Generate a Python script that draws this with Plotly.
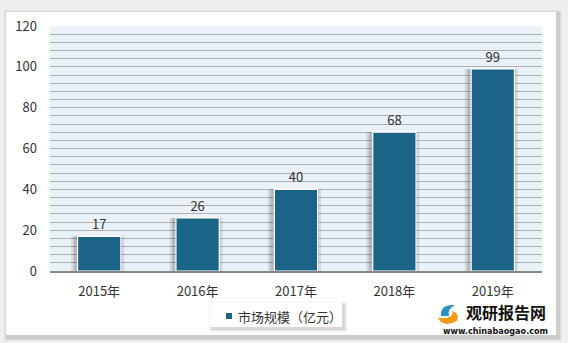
import plotly.graph_objects as go

categories = ["2015年", "2016年", "2017年", "2018年", "2019年"]
values = [17, 26, 40, 68, 99]
series_name = "市场规模（亿元）"
y_ticks = [0, 20, 40, 60, 80, 100, 120]

W, H = 568, 343
L, R, T, B = 50, 26, 26, 72
PW, PH = W - L - R, H - T - B

def px(x):
    return (x - L) / PW

def py(y):
    return (H - B - y) / PH

FONT = "Noto Sans CJK SC, Microsoft YaHei, sans-serif"
BAR = "#1b6487"

fig = go.Figure()

# shadow bars (same data), offset to the left
fig.add_trace(go.Bar(x=categories, y=values, width=0.54, marker=dict(color="rgba(0,0,0,0.10)", line=dict(width=0)),
                     showlegend=False, hoverinfo="skip", offset=-0.285))
fig.add_trace(go.Bar(x=categories, y=values, width=0.49, marker=dict(color="rgba(0,0,0,0.14)", line=dict(width=0)),
                     showlegend=False, hoverinfo="skip", offset=-0.26))
fig.add_trace(go.Bar(x=categories, y=values, name=series_name, width=0.44, offset=-0.22,
                     marker=dict(color=BAR, line=dict(color="white", width=1.2)),
                     text=[str(v) for v in values], textposition="outside",
                     textfont=dict(size=13, color="#333333", family=FONT), cliponaxis=False,
                     showlegend=False))

shapes = []
# card shadow
for i, a in enumerate([0.04, 0.05, 0.06]):
    d = 4 - i
    shapes.append(dict(type="rect", xref="paper", yref="paper", layer="below",
                       x0=px(6 - d + 2), x1=px(556 + d + 2), y0=py(335 + d + 2), y1=py(12 - d + 2),
                       fillcolor=f"rgba(0,0,0,{a})", line=dict(width=0)))
shapes.append(dict(type="rect", xref="paper", yref="paper", layer="below",
                   x0=px(6), x1=px(556), y0=py(335), y1=py(12), fillcolor="white", line=dict(width=0)))
# plot area bg
shapes.append(dict(type="rect", xref="paper", yref="paper", layer="below",
                   x0=0, x1=1, y0=0, y1=1, fillcolor="#eaf1f8", line=dict(width=0)))
# legend box shadow
for i, a in enumerate([0.04, 0.05, 0.07]):
    d = 3 - i
    shapes.append(dict(type="rect", xref="paper", yref="paper", layer="below",
                       x0=px(210 - d + 2), x1=px(342 + d + 2), y0=py(327 + d + 2), y1=py(303 - d + 2),
                       fillcolor=f"rgba(0,0,0,{a})", line=dict(width=0)))
shapes.append(dict(type="rect", xref="paper", yref="paper", layer="below",
                   x0=px(210), x1=px(342), y0=py(327), y1=py(303), fillcolor="white", line=dict(width=0)))
# legend marker
shapes.append(dict(type="rect", xref="paper", yref="paper",
                   x0=px(226), x1=px(232), y0=py(319), y1=py(313), fillcolor=BAR, line=dict(width=0)))
# logo swirl
shapes.append(dict(type="path", xref="paper", yref="paper",
                   path=f"M {px(441)},{py(316)} Q {px(440)},{py(304)} {px(455)},{py(305)} Q {px(447)},{py(309)} {px(449)},{py(316)} Z",
                   fillcolor="#2a8fc4", line=dict(width=0)))
shapes.append(dict(type="path", xref="paper", yref="paper",
                   path=f"M {px(438)},{py(318)} Q {px(443)},{py(328)} {px(457)},{py(321)} Q {px(460)},{py(313)} {px(452)},{py(311)} Q {px(455)},{py(319)} {px(438)},{py(318)} Z",
                   fillcolor="#f39a1b", line=dict(width=0)))

annotations = [
    dict(text=series_name, xref="paper", yref="paper", x=px(236), y=py(316), xanchor="left", yanchor="middle",
         showarrow=False, font=dict(size=13, color="#333333", family=FONT)),
    dict(text="<b>观研报告网</b>", xref="paper", yref="paper", x=px(506), y=py(312), xanchor="center", yanchor="middle",
         showarrow=False, font=dict(size=16, color="#111111", family=FONT)),
    dict(text="<b>www.chinabaogao.com</b>", xref="paper", yref="paper", x=px(495), y=py(331), xanchor="center", yanchor="middle",
         showarrow=False, font=dict(size=9, color="#111111", family="DejaVu Sans Condensed, Arial")),
]

fig.update_layout(
    width=W, height=H,
    margin=dict(l=L, r=R, t=T, b=B),
    paper_bgcolor="#efefef",
    plot_bgcolor="rgba(0,0,0,0)",
    barmode="overlay",
    font=dict(family=FONT, size=13, color="#333333"),
    shapes=shapes,
    annotations=annotations,
    showlegend=False,
)
fig.update_xaxes(showgrid=False, showline=True, linecolor="#888888", linewidth=1.5, ticks="",
                 tickfont=dict(size=13, color="#333333"), range=[-0.5, 4.5], ticklabelstandoff=8)
fig.update_yaxes(range=[0, 120], showgrid=True, gridcolor="#b0b0b0", gridwidth=1,
                 tickmode="array", tickvals=y_ticks, ticktext=[str(v) for v in y_ticks],
                 zeroline=False, tickfont=dict(size=13, color="#333333"), ticks="", ticklabelstandoff=12,
                 minor=dict(dtick=4, showgrid=True, gridcolor="#b0b0b0", gridwidth=1))

fig.write_html("out.html")
